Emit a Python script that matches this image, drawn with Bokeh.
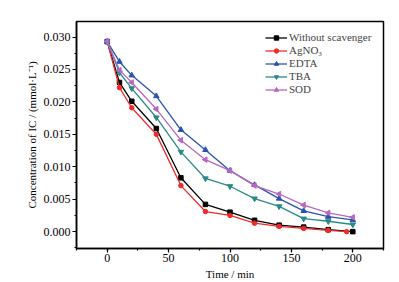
from bokeh.plotting import figure
from bokeh.models import SingleIntervalTicker, Range1d, Legend, LegendItem, CustomJSTickFormatter
from bokeh.embed import file_html
from bokeh.resources import INLINE

time = [0, 10, 20, 40, 60, 80, 100, 120, 140, 160, 180, 200]
time_ag = [0, 10, 20, 40, 60, 80, 100, 120, 140, 160, 180, 195]
without = [0.0293, 0.0230, 0.0201, 0.0159, 0.0083, 0.0042, 0.0030, 0.00175, 0.0010, 0.0007, 0.0003, 0.0000]
agno3 = [0.0293, 0.0222, 0.0191, 0.0150, 0.0071, 0.0031, 0.0025, 0.0013, 0.0008, 0.0005, 0.0002, 0.0000]
edta = [0.0293, 0.0262, 0.0241, 0.0209, 0.0157, 0.0126, 0.0094, 0.0072, 0.0051, 0.0032, 0.0023, 0.0018]
tba = [0.0293, 0.0245, 0.0221, 0.0176, 0.0123, 0.0082, 0.0070, 0.0051, 0.0039, 0.0020, 0.0016, 0.0011]
sod = [0.0293, 0.0249, 0.0230, 0.0189, 0.0141, 0.0111, 0.0094, 0.0071, 0.0058, 0.0041, 0.0029, 0.0022]

FONT = "Liberation Serif"

p = figure(width=399, height=282, output_backend="svg", toolbar_location=None,
           x_range=Range1d(-25, 225), y_range=Range1d(-0.0026, 0.0324),
           min_border_left=76, min_border_top=21, min_border_right=16, min_border_bottom=33)
p.background_fill_color = "white"
p.border_fill_color = "white"
p.outline_line_color = "black"
p.outline_line_width = 1.5
p.xgrid.visible = False
p.ygrid.visible = False

p.xaxis.ticker = SingleIntervalTicker(interval=50, num_minor_ticks=2)
p.yaxis.ticker = SingleIntervalTicker(interval=0.005, num_minor_ticks=2)
for ax in (p.xaxis, p.yaxis):
    ax.axis_line_width = 1.5
    ax.major_tick_line_width = 1.2
    ax.minor_tick_line_width = 1.2
    ax.major_tick_out = 4
    ax.major_tick_in = 0
    ax.minor_tick_out = 2
    ax.minor_tick_in = 0
    ax.major_label_text_font = FONT
    ax.major_label_text_font_size = "12px"
    ax.major_label_text_color = "black"
    ax.axis_label_text_font = FONT
    ax.axis_label_text_font_size = "11px"
    ax.axis_label_text_font_style = "normal"
    ax.axis_label_text_color = "black"
p.yaxis.formatter = CustomJSTickFormatter(code="return Math.abs(tick) < 1e-9 ? '0.000' : tick.toFixed(3);")
p.xaxis.major_label_standoff = 1
p.yaxis.major_label_standoff = 2
p.xaxis.axis_label_standoff = 3
p.yaxis.axis_label_standoff = 3
p.xaxis.axis_label = "Time / min"
p.yaxis.axis_label = "Concentration of IC / (mmol\u00b7L\u207b\u00b9)"

series = [
    ("Without scavenger", time, without, "black", "square", 4.5),
    ("AgNO\u2083", time_ag, agno3, "#f02a2a", "circle", 4.5),
    ("EDTA", time, edta, "#2a52b0", "triangle", 5.5),
    ("TBA", time, tba, "#2a8a88", "inverted_triangle", 5.5),
    ("SOD", time, sod, "#b868c0", "triangle", 5.5),
]
legend_bottoms = [205, 192, 179, 166, 153]
for (name, xs, ys, color, marker, size), vy in zip(series, legend_bottoms):
    r1 = p.line(xs, ys, line_color=color, line_width=1.3)
    angle = 1.5708 if name == "SOD" else 0
    r2 = p.scatter(xs, ys, marker=marker, size=size, fill_color=color, line_color=color, angle=angle)
    lg = Legend(items=[LegendItem(label=name, renderers=[r1, r2])], location=(189, vy),
                padding=0, margin=0, spacing=0,
                glyph_width=22, glyph_height=11, label_height=11, label_standoff=2,
                label_text_font=FONT, label_text_font_size="11px",
                border_line_alpha=0, background_fill_alpha=0)
    p.add_layout(lg)

open("out.html", "w").write(file_html(p, INLINE))
